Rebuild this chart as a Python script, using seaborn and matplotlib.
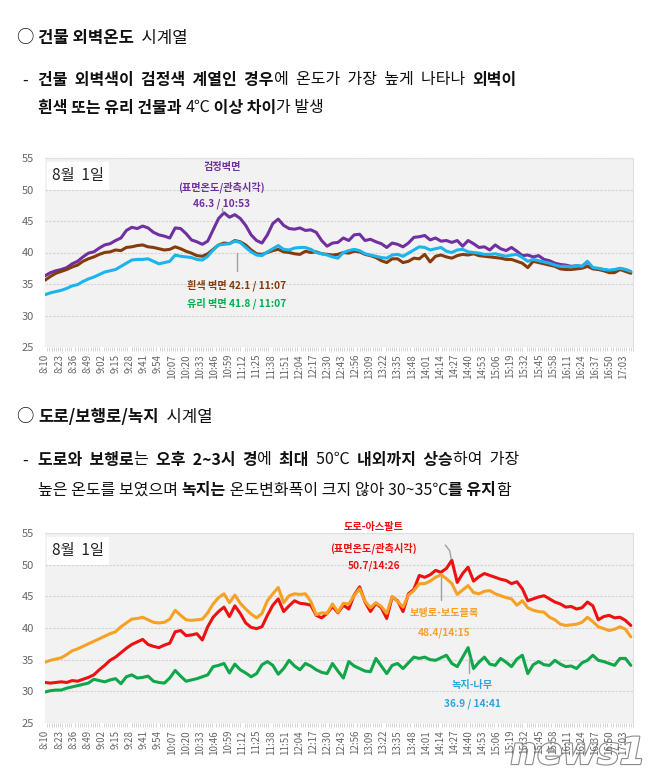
import numpy as np
import pandas as pd
import matplotlib
matplotlib.use("Agg")
import matplotlib.pyplot as plt
import matplotlib.patheffects as pe
import seaborn as sns

# === data: surface temperatures, 8월 1일, every 5 min from 8:10 ===
minutes = np.arange(0, 545, 5)

black_wall = [36.3, 36.8, 37.1, 37.3, 37.6, 38.2, 38.6, 39.3, 39.9, 40.1, 40.7, 41.2, 41.4, 41.9, 42.3, 43.5,
              44.0, 43.8, 44.2, 43.9, 43.2, 42.8, 42.6, 42.3, 43.9, 43.8, 43.0, 42.0, 41.7, 41.3, 41.8, 43.6,
              45.4, 46.3, 45.6, 46.0, 45.4, 44.3, 42.8, 41.9, 41.5, 42.8, 44.6, 45.3, 44.3, 43.8, 43.7, 43.9,
              43.5, 43.6, 43.2, 41.9, 41.0, 41.5, 41.6, 42.3, 41.9, 42.8, 42.9, 41.9, 42.1, 41.7, 41.4, 40.8,
              41.5, 41.3, 40.9, 41.5, 42.4, 42.5, 42.7, 42.0, 42.3, 41.8, 41.9, 41.6, 41.9, 41.0, 41.9, 41.4,
              40.8, 40.9, 40.4, 41.2, 40.6, 40.3, 40.8, 40.2, 39.5, 39.6, 39.3, 39.5, 38.9, 38.7, 38.3, 38.1,
              38.0, 37.8, 37.9, 37.8, 38.5, 37.5, 37.4, 37.3, 37.1, 37.2, 37.4, 37.3, 36.9]
white_wall = [35.6, 36.2, 36.7, 37.0, 37.3, 37.7, 38.0, 38.6, 39.0, 39.3, 39.7, 40.0, 40.1, 40.4, 40.3, 40.8,
              40.9, 41.1, 41.2, 40.9, 40.8, 40.6, 40.4, 40.5, 40.9, 40.6, 40.2, 39.9, 39.5, 39.4, 39.8, 40.5,
              41.2, 41.5, 41.4, 41.9, 41.7, 41.2, 40.4, 39.8, 39.7, 40.0, 40.3, 40.5, 40.1, 40.0, 39.8, 39.7,
              40.2, 40.0, 40.1, 39.8, 39.7, 39.6, 39.7, 40.0, 39.9, 40.2, 40.1, 39.7, 39.5, 39.2, 38.7, 38.4,
              39.0, 39.0, 38.4, 38.6, 39.1, 39.0, 39.7, 38.5, 39.4, 39.6, 39.3, 39.1, 39.5, 39.7, 39.6, 39.8,
              39.5, 39.4, 39.3, 39.2, 39.1, 38.9, 38.9, 38.6, 38.3, 37.6, 38.6, 38.4, 38.2, 38.0, 37.8, 37.4,
              37.3, 37.3, 37.4, 37.5, 37.8, 37.4, 37.3, 37.1, 36.8, 36.8, 37.3, 37.0, 36.7]
glass_wall = [33.3, 33.6, 33.8, 34.0, 34.3, 34.7, 34.9, 35.4, 35.8, 36.1, 36.5, 36.9, 37.1, 37.3, 37.8, 38.3,
              38.8, 38.9, 38.9, 39.0, 38.6, 38.2, 38.4, 38.6, 39.6, 39.4, 39.3, 39.2, 38.9, 38.8, 39.4, 40.4,
              41.2, 41.3, 41.4, 41.8, 41.6, 40.8, 40.1, 39.6, 39.5, 40.1, 40.6, 41.1, 40.5, 40.4, 40.7, 40.8,
              40.8, 40.5, 40.0, 39.8, 39.6, 39.3, 39.1, 40.0, 40.3, 40.5, 40.3, 39.8, 39.6, 39.4, 39.2, 39.1,
              39.6, 39.7, 39.4, 39.9, 40.4, 40.9, 40.8, 40.4, 40.6, 40.8, 40.2, 40.0, 40.4, 40.5, 40.1, 40.0,
              39.9, 39.7, 39.7, 39.8, 39.6, 39.4, 39.6, 39.7, 39.2, 38.6, 38.9, 38.7, 38.5, 38.3, 38.0, 37.8,
              37.8, 37.7, 37.9, 37.8, 38.6, 37.6, 37.5, 37.3, 37.2, 37.3, 37.5, 37.3, 37.0]

asphalt = [31.4, 31.3, 31.4, 31.5, 31.4, 31.7, 31.6, 31.9, 32.2, 32.6, 33.4, 34.1, 34.9, 35.4, 36.1, 36.8,
           37.4, 37.8, 38.2, 37.4, 37.1, 36.9, 37.3, 37.6, 39.4, 39.6, 38.8, 38.9, 39.1, 38.1, 40.2, 41.7,
           42.6, 43.3, 41.8, 43.5, 42.3, 40.8, 40.1, 39.9, 40.2, 42.0, 43.6, 44.6, 42.6, 43.5, 44.3, 43.9,
           43.8, 43.6, 42.0, 41.6, 42.3, 43.4, 42.4, 43.6, 43.0, 45.2, 46.5, 44.1, 42.6, 43.9, 43.2, 41.5,
           44.9, 44.3, 42.6, 45.4, 46.1, 48.3, 48.0, 48.4, 49.1, 48.8, 49.4, 50.7, 47.2, 48.6, 49.6, 47.4,
           48.1, 48.6, 48.3, 48.0, 47.7, 47.5, 47.0, 47.3, 46.2, 44.3, 44.6, 44.9, 45.1, 44.6, 44.1, 43.8,
           43.3, 43.4, 43.0, 43.2, 44.1, 43.5, 41.3, 41.8, 42.0, 41.6, 41.7, 41.2, 40.4]
sidewalk = [34.6, 34.9, 35.1, 35.3, 35.8, 36.4, 36.7, 37.1, 37.5, 37.9, 38.3, 38.7, 39.1, 39.4, 40.2, 40.8,
            41.4, 41.5, 41.7, 41.3, 40.9, 40.8, 40.9, 41.4, 42.8, 42.0, 41.3, 41.2, 41.3, 41.4, 42.4, 43.8,
            44.8, 45.4, 44.0, 45.2, 43.9, 43.0, 42.2, 41.6, 42.3, 44.3, 45.4, 46.4, 44.0, 45.1, 45.4, 45.3,
            45.4, 44.2, 42.1, 42.4, 42.3, 43.8, 42.5, 43.9, 43.8, 45.1, 46.2, 44.2, 43.2, 44.0, 43.4, 42.3,
            45.0, 44.2, 43.3, 45.2, 45.9, 47.0, 47.0, 47.4, 48.0, 48.4, 47.8, 47.0, 45.3, 46.0, 46.7, 45.6,
            45.4, 45.8, 45.9, 45.4, 45.1, 44.8, 44.6, 43.6, 44.3, 43.2, 42.8, 42.6, 42.5, 41.7, 41.3, 40.6,
            40.4, 40.5, 40.6, 40.9, 41.7, 41.0, 40.2, 39.9, 39.6, 39.8, 40.2, 39.8, 38.6]
tree = [29.9, 30.1, 30.2, 30.2, 30.5, 30.7, 30.9, 31.1, 31.3, 31.9, 31.7, 31.5, 31.8, 32.0, 31.2, 32.3,
        32.6, 32.1, 32.2, 32.4, 31.6, 31.4, 31.3, 32.1, 33.3, 32.4, 31.6, 31.8, 32.0, 32.3, 32.6, 33.9,
        34.1, 34.4, 32.9, 34.3, 33.4, 32.9, 32.3, 32.8, 34.2, 34.7, 34.1, 32.7, 33.6, 34.9, 34.0, 33.4,
        34.4, 34.0, 33.4, 33.0, 32.8, 34.4, 33.2, 32.1, 34.7, 34.0, 33.6, 33.2, 33.1, 35.2, 34.0, 32.8,
        34.1, 34.4, 33.6, 34.5, 35.4, 35.2, 35.4, 35.0, 34.9, 35.3, 35.7, 34.4, 33.9, 35.4, 36.9, 33.6,
        34.6, 35.4, 34.3, 34.1, 35.2, 34.6, 33.9, 35.1, 35.7, 32.8, 34.2, 34.7, 34.2, 34.1, 34.9, 34.3,
        33.9, 34.0, 33.6, 34.5, 34.9, 35.7, 34.9, 34.7, 34.4, 34.1, 35.2, 35.2, 34.1]

tick_labels = ["8:10", "8:23", "8:36", "8:49", "9:02", "9:15", "9:28", "9:41", "9:54", "10:07", "10:20",
               "10:33", "10:46", "10:59", "11:12", "11:25", "11:38", "11:51", "12:04", "12:17", "12:30",
               "12:43", "12:56", "13:09", "13:22", "13:35", "13:48", "14:01", "14:14", "14:27", "14:40",
               "14:53", "15:06", "15:19", "15:32", "15:45", "15:58", "16:11", "16:24", "16:37", "16:50",
               "17:03"]

wall_names = ["검정벽면", "흰색 벽면", "유리 벽면"]
wall_colors = ["#7030a0", "#843c0c", "#1cb4ec"]
ground_names = ["도로-아스팔트", "보행로-보도블록", "녹지-나무"]
ground_colors = ["#ee1111", "#f7a124", "#10a64a"]

df_wall = pd.DataFrame({"t": np.tile(minutes, 3),
                        "temp": black_wall + white_wall + glass_wall,
                        "surface": np.repeat(wall_names, len(minutes))})
df_ground = pd.DataFrame({"t": np.tile(minutes, 3),
                          "temp": asphalt + sidewalk + tree,
                          "surface": np.repeat(ground_names, len(minutes))})

sns.set_style("white")
plt.rcParams["font.family"] = ["Noto Sans CJK KR", "DejaVu Sans"]

W, H = 658, 783
fig = plt.figure(figsize=(W / 100, H / 100), dpi=100)
fig.patch.set_facecolor("white")
page = fig.add_axes([0, 0, 1, 1])
page.axis("off")
page.set_xlim(0, W)
page.set_ylim(H, 0)


def rich_line(x, y, parts, size=11.5):
    first, bold = parts[0]
    t = page.text(x, y, first, fontsize=size, va="center", ha="left",
                  fontweight="bold" if bold else "normal", color="#111111")
    for s, bold in parts[1:]:
        t = page.annotate(s, xy=(1, 0), xycoords=t, va="bottom", ha="left", fontsize=size,
                          fontweight="bold" if bold else "normal", color="#111111")


# === text blocks ===
page.text(16, 38, "○", fontsize=12.5, va="center", color="#111111")
rich_line(38, 38, [("건물 외벽온도", True), ("  시계열", False)], 12)
page.text(22, 80, "-", fontsize=11.5, va="center", color="#111111")
rich_line(38, 80, [("건물  외벽색이  검정색  계열인  경우", True), ("에  온도가  가장  높게  나타나  ", False),
                   ("외벽이", True)])
rich_line(38, 108, [("흰색 또는 유리 건물과 ", True), ("4℃", False), (" 이상 차이", True), ("가 발생", False)])

page.text(16, 417, "○", fontsize=12.5, va="center", color="#111111")
rich_line(38, 417, [("도로/보행로/녹지", True), ("  시계열", False)], 12)
page.text(22, 460, "-", fontsize=11.5, va="center", color="#111111")
rich_line(38, 460, [("도로와  보행로", True), ("는  ", False), ("오후  2~3시  경", True), ("에  ", False),
                    ("최대  ", True), ("50℃  ", False), ("내외까지  상승", True), ("하여  가장", False)])
rich_line(38, 490, [("높은 온도를 보였으며 ", False), ("녹지는", True), (" 온도변화폭이 크지 않아 30~35℃", False),
                    ("를 유지", True), ("함", False)])


def panel(rect, df, names, colors):
    ax = fig.add_axes(rect)
    sns.lineplot(data=df, x="t", y="temp", hue="surface", hue_order=names,
                 palette=dict(zip(names, colors)), linewidth=2.2, legend=False, ax=ax)
    ax.set_facecolor("#f2f2f2")
    ax.set_xlim(0, 542)
    ax.set_ylim(25, 55)
    ax.set_yticks(range(25, 56, 5))
    ax.set_xticks(np.arange(0, 534, 13))
    ax.set_xticklabels(tick_labels, rotation=90)
    ax.set_xticks(np.arange(0, 543, 2), minor=True)
    ax.tick_params(axis="x", which="major", length=3, color="#c8c8c8", labelsize=7,
                   labelcolor="#666666", pad=2)
    ax.tick_params(axis="x", which="minor", length=3, color="#d0d0d0", width=0.6, bottom=True)
    ax.tick_params(axis="y", length=0, labelsize=8, labelcolor="#666666", pad=8)
    ax.grid(axis="y", color="#d6d6d6", linestyle=(0, (2, 1)), linewidth=0.9)
    ax.set_axisbelow(True)
    for side in ["left", "bottom"]:
        ax.spines[side].set_visible(False)
    for side in ["top", "right"]:
        ax.spines[side].set_color("#e0e0e0")
        ax.spines[side].set_linewidth(0.8)
    ax.set_xlabel("")
    ax.set_ylabel("")
    ax.text(0.012, 0.95, "8월  1일", transform=ax.transAxes, fontsize=11, va="top", ha="left",
            color="#222222", bbox=dict(boxstyle="square,pad=0.35", fc="white", ec="none"))
    return ax


ax1 = panel([45 / W, 1 - 347 / H, 588 / W, 189 / H], df_wall, wall_names, wall_colors)
ax2 = panel([45 / W, 1 - 723 / H, 588 / W, 190 / H], df_ground, ground_names, ground_colors)

lead = dict(color="#a0a0a0", linewidth=1.0)
note = dict(fontsize=7.3, fontweight="bold", ha="center", va="center", clip_on=False)

# building wall notes
ax1.text(163, 53.6, "검정벽면", color="#7030a0", **note)
ax1.text(163, 50.4, "(표면온도/관측시각)", color="#7030a0", **note)
ax1.text(163, 47.7, "46.3 / 10:53", color="#7030a0", **note)
ax1.plot([163, 163], [47.1, 46.4], **lead)
ax1.plot([177, 177], [40.0, 37.0], **lead)
ax1.text(177, 34.8, "흰색 벽면 42.1 / 11:07", color="#843c0c", **note)
ax1.text(177, 32.0, "유리 벽면 41.8 / 11:07", color="#00b050", **note)

# road / sidewalk / green notes
ax2.text(303, 55.9, "도로-아스팔트", color="#ee1111", **note)
ax2.text(303, 52.6, "(표면온도/관측시각)", color="#ee1111", **note)
ax2.text(303, 49.9, "50.7/14:26", color="#ee1111", **note)
ax2.plot([369, 373, 374.5], [53.1, 52.2, 50.9], clip_on=False, **lead)
ax2.plot([365, 365], [48.0, 44.4], **lead)
ax2.text(368, 42.4, "보행로-보도블록", color="#f7a124", **note)
ax2.text(368, 39.2, "48.4/14:15", color="#f7a124", **note)
ax2.plot([391, 391], [35.4, 32.9], **lead)
ax2.text(394, 31.0, "녹지-나무", color="#2aa7e0", **note)
ax2.text(394, 28.0, "36.9 / 14:41", color="#2aa7e0", **note)

# watermark
page.text(578, 754, "news1", fontsize=27, style="italic", fontweight="bold", ha="center", va="center",
          color="white", family="DejaVu Sans",
          path_effects=[pe.withStroke(linewidth=1.6, foreground="#8a8a8a")])

fig.savefig("out.png", dpi=100)
